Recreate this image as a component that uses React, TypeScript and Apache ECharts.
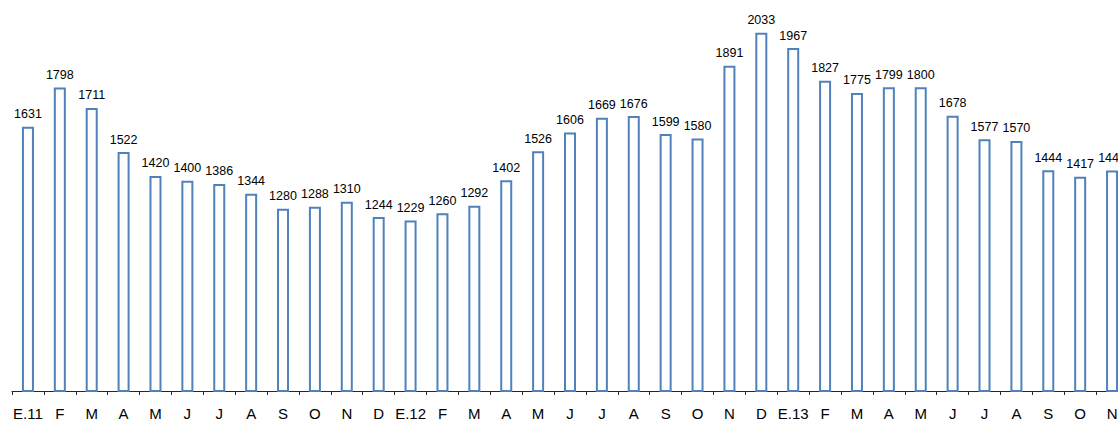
import React, { useEffect, useRef } from "react";
import * as echarts from "echarts";

const categories = [
  "E.11", "F", "M", "A", "M", "J", "J", "A", "S", "O", "N", "D",
  "E.12", "F", "M", "A", "M", "J", "J", "A", "S", "O", "N", "D",
  "E.13", "F", "M", "A", "M", "J", "J", "A", "S", "O", "N",
];

const values = [
  1631, 1798, 1711, 1522, 1420, 1400, 1386, 1344, 1280, 1288, 1310, 1244,
  1229, 1260, 1292, 1402, 1526, 1606, 1669, 1676, 1599, 1580, 1891, 2033,
  1967, 1827, 1775, 1799, 1800, 1678, 1577, 1570, 1444, 1417, 1443,
];

const yMin = 500;
const yMax = 2100;

export default function App() {
  const ref = useRef<HTMLDivElement>(null);
  useEffect(() => {
    if (!ref.current) return;
    const chart = echarts.init(ref.current, undefined, { renderer: "svg" });
    chart.setOption({
      animation: false,
      backgroundColor: "#ffffff",
      textStyle: { fontFamily: "Liberation Sans, Arial, sans-serif" },
      grid: { left: 12, right: 12, top: 17, bottom: 31, containLabel: false },
      xAxis: {
        type: "category",
        data: categories,
        boundaryGap: true,
        axisLine: { show: true, lineStyle: { color: "#262626", width: 1 } },
        axisTick: { show: true, length: 4, lineStyle: { color: "#262626" } },
        axisLabel: {
          interval: 0,
          color: "#000000",
          fontSize: 15,
          margin: 15,
          fontFamily: "Liberation Sans, Arial, sans-serif",
        },
      },
      yAxis: {
        type: "value",
        min: yMin,
        max: yMax,
        show: false,
        splitLine: { show: false },
      },
      series: [
        {
          type: "bar",
          data: values,
          barWidth: 12,
          itemStyle: {
            color: "#ffffff",
            borderColor: "#4F81BD",
            borderWidth: 2,
          },
          label: {
            show: true,
            position: "top",
            distance: 6,
            color: "#000000",
            fontSize: 12.5,
            fontFamily: "Liberation Sans, Arial, sans-serif",
          },
        },
      ],
    });
    return () => chart.dispose();
  }, []);
  return (
    <div
      ref={ref}
      style={{ position: "fixed", left: 0, top: 0, width: 1140, height: 422, background: "#fff" }}
    />
  );
}
